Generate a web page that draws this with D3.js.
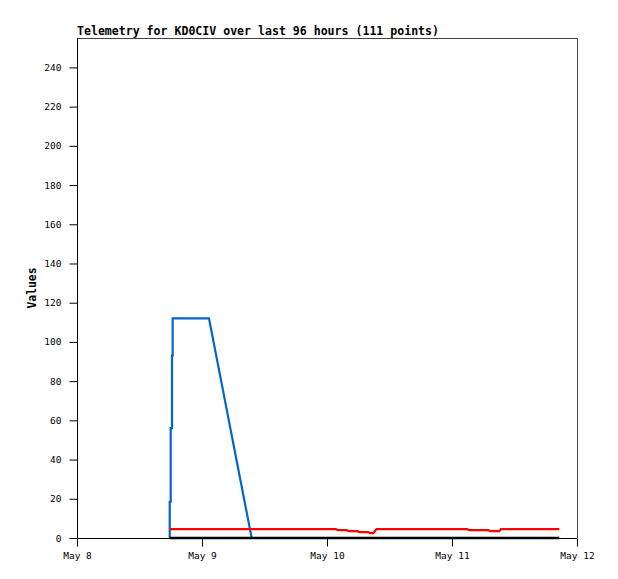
<!DOCTYPE html>
<html>
<head>
<meta charset="utf-8">
<script src="https://cdn.jsdelivr.net/npm/d3@7"></script>
<style>
  html, body { margin: 0; padding: 0; background: #fff; }
  svg { display: block; }
</style>
</head>
<body>
<svg id="chart" width="618" height="579"></svg>
<script>
// ---- data (hours after May 8 00:00) ----
const titleText = "Telemetry for KD0CIV over last 96 hours (111 points)";
const yLabel = "Values";
const xTickLabels = ["May 8", "May 9", "May 10", "May 11", "May 12"];
const xTickHours = [0, 24, 48, 72, 96];
const yTicks = [0, 20, 40, 60, 80, 100, 120, 140, 160, 180, 200, 220, 240];

const blueHours  = [17.80, 17.80, 17.99, 17.99, 18.24, 18.24, 18.37, 18.37, 25.34, 33.54, 92.6];
const blueValues = [0,     18.5,  18.5,  56,    56,    93,    93,    112,   112,   0,     0];

const redHours  = [17.85, 49.7, 50.1, 51.8, 52.2, 53.8, 54.2, 55.9, 56.3, 56.9, 57.5, 74.9, 75.3, 79.0, 79.4, 81.1, 81.4, 92.6];
const redValues = [4.5,   4.5,  4.0,  4.0,  3.5,  3.5,  3.0,  3.0,  2.5,  2.5,  4.5,  4.5,  4.0,  4.0,  3.5,  3.5,  4.5,  4.5];

const blackHours  = [17.80, 92.6];
const blackValues = [0, 0];

// ---- layout ----
const svg = d3.select("#chart");
const L = 77, R = 577, T = 38, B = 538;
const mono = "'DejaVu Sans Mono', 'Liberation Mono', monospace";

const x = d3.scaleLinear().domain([0, 96]).range([L, R]);
const y = d3.scaleLinear().domain([0, 255]).range([B, T]);

// frame (top & right)
svg.append("path")
  .attr("d", `M${L},${T + 0.5}H${R + 0.5}V${B}`)
  .attr("fill", "none").attr("stroke", "#444").attr("stroke-width", 1);

// series
const line = d3.line().x(d => x(d[0])).y(d => y(d[1]));
function drawSeries(hours, values, color, w) {
  svg.append("path")
    .datum(hours.map((h, i) => [h, values[i]]))
    .attr("d", line)
    .attr("fill", "none")
    .attr("stroke", color)
    .attr("stroke-width", w)
    .attr("stroke-linejoin", "miter");
}
drawSeries(blueHours, blueValues, "#0066cc", 2.2);
drawSeries(redHours, redValues, "#ff0000", 2.2);
drawSeries(blackHours, blackValues, "#000000", 2.5);

// y axis
const yAxis = d3.axisLeft(y).tickValues(yTicks).tickSize(8).tickPadding(8).tickFormat(d3.format("d"));
const gy = svg.append("g").attr("transform", `translate(${L + 0.5},0)`).call(yAxis);
gy.select(".domain").attr("d", `M0,${T}V${B + 0.5}`).attr("stroke", "#000");
gy.selectAll(".tick line").attr("stroke", "#000");
gy.selectAll(".tick text").attr("font-family", mono).attr("font-size", "9.5px").attr("fill", "#000");

// x axis
const xAxis = d3.axisBottom(x).tickValues(xTickHours).tickSize(8).tickPadding(6)
  .tickFormat((d, i) => xTickLabels[i]);
const gx = svg.append("g").attr("transform", `translate(0,${B + 0.5})`).call(xAxis);
gx.select(".domain").attr("d", `M${L},0H${R + 0.5}`).attr("stroke", "#000");
gx.selectAll(".tick line").attr("stroke", "#000");
gx.selectAll(".tick text").attr("font-family", mono).attr("font-size", "9.5px").attr("fill", "#000");

// title
svg.append("text")
  .attr("x", L).attr("y", 35)
  .attr("font-family", mono).attr("font-weight", "bold").attr("font-size", "11.4px")
  .attr("textLength", 362).attr("lengthAdjust", "spacingAndGlyphs")
  .text(titleText);

// y label
svg.append("text")
  .attr("transform", `translate(36,${(T + B) / 2}) rotate(-90)`)
  .attr("text-anchor", "middle")
  .attr("font-family", mono).attr("font-weight", "bold").attr("font-size", "11.4px")
  .text(yLabel);
</script>
</body>
</html>
